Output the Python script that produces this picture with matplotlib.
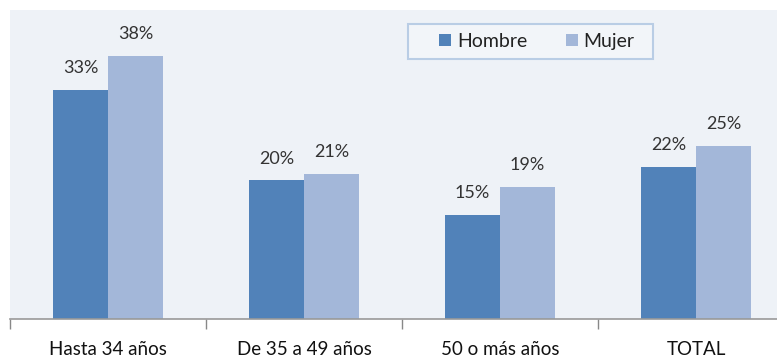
import numpy as np
import matplotlib
matplotlib.use('Agg')
import matplotlib.pyplot as plt
from matplotlib.patches import Rectangle

categorias = ['Hasta 34 años', 'De 35 a 49 años', '50 o más años', 'TOTAL']
hombre = [33, 20, 15, 22]
mujer = [38, 21, 19, 25]
series = ['Hombre', 'Mujer']

plt.rcParams['font.family'] = ['Lato', 'DejaVu Sans']

fig = plt.figure(figsize=(7.77, 3.59), dpi=100)
ax = fig.add_axes([10/777, 40/359, 784/777, 309/359])
ax.set_facecolor('#eef2f7')

x = np.arange(len(categorias))
ancho = 0.28
b1 = ax.bar(x - ancho/2, hombre, ancho, color='#5182b9', label=series[0])
b2 = ax.bar(x + ancho/2, mujer, ancho, color='#a3b7d9', label=series[1])

for barras, valores in [(b1, hombre), (b2, mujer)]:
    for b, v in zip(barras, valores):
        ax.annotate(f'{v}%', (b.get_x() + b.get_width()/2, v),
                    xytext=(0, 10), textcoords='offset points',
                    ha='center', va='bottom', fontsize=13, color='#333333')

ax.set_xlim(-0.5, len(categorias) - 0.5)
ax.set_ylim(0, 44.6)
ax.set_yticks([])
ax.set_xticks(x)
ax.set_xticklabels(categorias, fontsize=13.5, color='#111111')
ax.set_xticks(np.arange(len(categorias) + 1) - 0.5, minor=True)
ax.tick_params(axis='x', which='major', length=0, pad=16)
ax.tick_params(axis='x', which='minor', length=7, color='#888888', width=1)
for s in ['top', 'right', 'left']:
    ax.spines[s].set_visible(False)
ax.spines['bottom'].set_color('#999999')
ax.spines['bottom'].set_linewidth(1.2)

# marco de la leyenda (pixeles de la figura)
fig.patches.append(Rectangle((408/777, 1 - 59/359), 245/777, 35/359,
                             transform=fig.transFigure, facecolor='#f2f5f9',
                             edgecolor='#b9cde5', linewidth=1.5, zorder=3))
leg = fig.legend(handles=[b1, b2], loc='center', bbox_to_anchor=(537/777, 1 - 41.5/359),
                 ncol=2, frameon=False, fontsize=14,
                 handlelength=0.6, handleheight=0.6, handletextpad=0.3,
                 columnspacing=2.0, borderpad=0.3)
leg.set_zorder(4)
for t in leg.get_texts():
    t.set_color('#222222')

fig.savefig('out.png', dpi=100)
